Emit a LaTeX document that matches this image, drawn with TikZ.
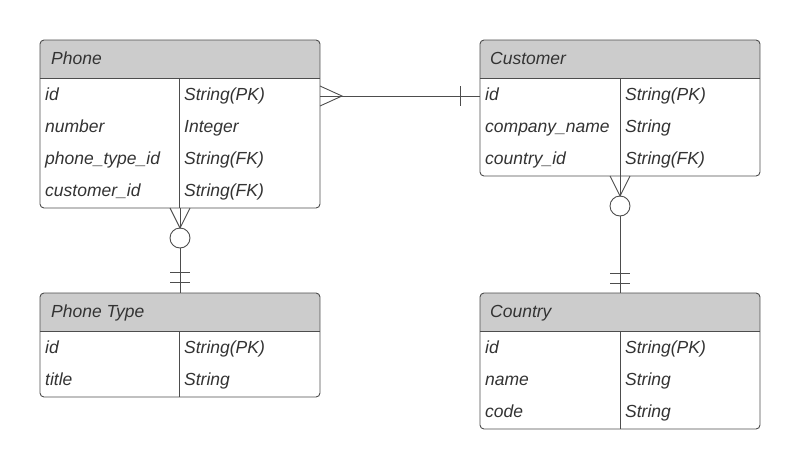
\documentclass[tikz,border=0pt]{standalone}
\usepackage{fontspec}
\setmainfont{Liberation Sans}
\usetikzlibrary{positioning}

\definecolor{hdrgray}{HTML}{CCCCCC}
\definecolor{linegray}{HTML}{4D4D4D}
\definecolor{txtgray}{HTML}{333333}

\tikzset{
  tblbox/.style={draw=none, inner sep=0pt, outer sep=0pt, anchor=north west},
  tblline/.style={draw=linegray, line width=0.9pt},
  fld/.style={anchor=base west, inner sep=0pt, text=txtgray,
    font=\fontsize{17.5}{20}\selectfont\itshape},
  rel/.style={draw=linegray, line width=0.9pt}
}

\begin{document}
\begin{tikzpicture}[x=1pt, y=-1pt]
  \useasboundingbox (0,0) rectangle (800,469);

  % Table boxes
  \node[tblbox, minimum width=280pt, minimum height=168pt] (phone) at (40,40) {};
  \node[tblbox, minimum width=280pt, minimum height=136pt] (customer) at (480,40) {};
  \node[tblbox, minimum width=280pt, minimum height=104pt] (phonetype) at (40,293) {};
  \node[tblbox, minimum width=280pt, minimum height=136pt] (country) at (480,293) {};

  % Headers, dividers and borders
  \foreach \t/\d in {phone/139, customer/140, phonetype/139, country/140} {
    \begin{scope}
      \clip[rounded corners=4pt] (\t.north west) rectangle (\t.south east);
      \fill[white] (\t.north west) rectangle (\t.south east);
      \fill[hdrgray] (\t.north west) rectangle ([yshift=-38pt]\t.north east);
    \end{scope}
    \draw[tblline] ([yshift=-38pt]\t.north west) -- ([yshift=-38pt]\t.north east);
    \draw[tblline] ([xshift=\d pt, yshift=-38pt]\t.north west) -- ([xshift=\d pt]\t.south west);
    \draw[tblline, rounded corners=4pt] (\t.north west) rectangle (\t.south east);
  }

  % Phone
  \node[fld] (phonehdr) at (51,64) {Phone};
  \node[fld] (phoneid) at (45,100.5) {id};
  \node[fld] at (45,132.5) {number};
  \node[fld] at (45,164.5) {phone\_type\_id};
  \node[fld] at (45,196.5) {customer\_id};
  \node[fld] at (184,100.5) {String(PK)};
  \node[fld] at (184,132.5) {Integer};
  \node[fld] at (184,164.5) {String(FK)};
  \node[fld] at (184,196.5) {String(FK)};

  % Customer
  \node[fld] (custhdr) at (490,64) {Customer};
  \node[fld] (custid) at (485,100.5) {id};
  \node[fld] at (485,132.5) {company\_name};
  \node[fld] at (485,164.5) {country\_id};
  \node[fld] at (625,100.5) {String(PK)};
  \node[fld] at (625,132.5) {String};
  \node[fld] at (625,164.5) {String(FK)};

  % Phone Type
  \node[fld] (typehdr) at (51,317) {Phone Type};
  \node[fld] at (45,353.5) {id};
  \node[fld] at (45,385.5) {title};
  \node[fld] at (184,353.5) {String(PK)};
  \node[fld] at (184,385.5) {String};

  % Country
  \node[fld] (countryhdr) at (490,317) {Country};
  \node[fld] at (485,353.5) {id};
  \node[fld] at (485,385.5) {name};
  \node[fld] at (485,417.5) {code};
  \node[fld] at (625,353.5) {String(PK)};
  \node[fld] at (625,385.5) {String};
  \node[fld] at (625,417.5) {String};

  % Phone -- Customer (many to one)
  \coordinate (pc1) at (320,96);
  \coordinate (pc2) at (480,96);
  \draw[rel] (pc1) -- (pc2);
  \draw[rel] ([yshift=10pt]pc1) -- ([xshift=22pt]pc1) -- ([yshift=-10pt]pc1);
  \draw[rel] ([xshift=-20pt, yshift=10pt]pc2) -- ([xshift=-20pt, yshift=-10pt]pc2);

  % Phone -- Phone Type (zero or many to one)
  \coordinate (pt1) at (180,208);
  \coordinate (pt2) at (180,293);
  \node[rel, circle, minimum size=20pt, inner sep=0pt] (ptcirc) at (180,238) {};
  \draw[rel] (pt1) -- (ptcirc.north);
  \draw[rel] ([xshift=-10pt]pt1) -- (180,228) -- ([xshift=10pt]pt1);
  \draw[rel] (ptcirc.south) -- (pt2);
  \draw[rel] (170,272) -- (190,272);
  \draw[rel] (170,282) -- (190,282);

  % Customer -- Country (zero or many to one)
  \coordinate (cc1) at (620,176);
  \coordinate (cc2) at (620,293);
  \node[rel, circle, minimum size=20pt, inner sep=0pt] (cccirc) at (620,206) {};
  \draw[rel] (cc1) -- (cccirc.north);
  \draw[rel] ([xshift=-10pt]cc1) -- (620,196) -- ([xshift=10pt]cc1);
  \draw[rel] (cccirc.south) -- (cc2);
  \draw[rel] (610,273) -- (630,273);
  \draw[rel] (610,283) -- (630,283);

\end{tikzpicture}
\end{document}
